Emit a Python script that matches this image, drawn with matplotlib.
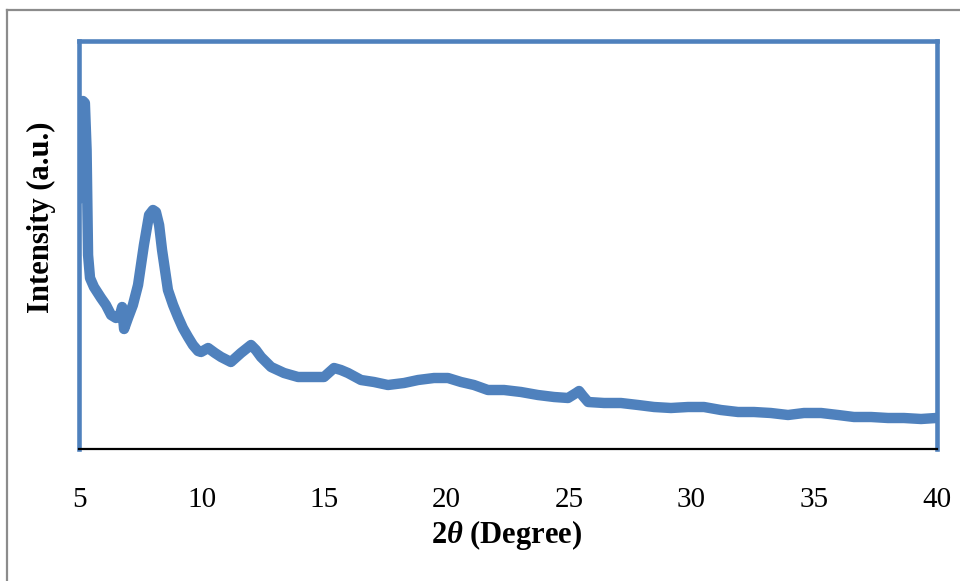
import matplotlib
matplotlib.use("Agg")
import matplotlib.pyplot as plt
from matplotlib.lines import Line2D

plt.rcParams['font.family'] = ['Liberation Serif', 'DejaVu Serif']
plt.rcParams['mathtext.fontset'] = 'custom'
plt.rcParams['mathtext.rm'] = 'Liberation Serif:bold'
plt.rcParams['mathtext.it'] = 'Liberation Serif:italic:bold'
plt.rcParams['mathtext.bf'] = 'Liberation Serif:bold'

# Data (2-theta in degrees, intensity in arbitrary units)
two_theta = [5.00, 5.08, 5.16, 5.24, 5.31, 5.37, 5.45, 5.61, 5.90, 6.10, 6.31, 6.51,
             6.67, 6.76, 6.84, 7.00, 7.20, 7.41, 7.65, 7.86, 8.02, 8.14, 8.27, 8.39,
             8.63, 8.84, 9.04, 9.24, 9.45, 9.65, 9.86, 9.98, 10.27, 10.55, 10.80, 11.20,
             11.61, 12.02, 12.22, 12.43, 12.84, 13.37, 13.94, 14.47, 15.00, 15.41, 15.69,
             15.98, 16.51, 17.04, 17.61, 18.27, 18.84, 19.49, 20.06, 20.59, 21.12, 21.69,
             22.35, 23.04, 23.73, 24.39, 24.96, 25.29, 25.41, 25.57, 25.78, 26.43, 27.12,
             27.82, 28.47, 29.16, 29.86, 30.51, 31.20, 31.90, 32.55, 33.24, 33.94, 34.59,
             35.29, 35.98, 36.63, 37.33, 38.02, 38.67, 39.37, 39.98]
intensity = [250, 305, 348, 346, 299, 194, 171, 162, 151, 144, 134, 131,
             134, 142, 120, 131, 144, 164, 204, 234, 239, 237, 224, 199,
             159, 144, 132, 121, 112, 104, 98, 97, 101, 96, 92, 87,
             96, 104, 99, 92, 82, 76, 72, 72, 72, 81, 79,
             76, 69, 67, 64, 66, 69, 71, 71, 67, 64, 59,
             59, 57, 54, 52, 51, 56, 58, 53, 47, 46, 46,
             44, 42, 41, 42, 42, 39, 37, 37, 36, 34, 36,
             36, 34, 32, 32, 31, 31, 30, 31]

x_ticks = [5, 10, 15, 20, 25, 30, 35, 40]
x_label = r'2$\theta$ (Degree)'
y_label = 'Intensity (a.u.)'

W, H = 960, 581
fig = plt.figure(figsize=(W / 100, H / 100), dpi=100)
left, right, top, bottom = 79, 936.5, 41, 449
ax = fig.add_axes([left / W, 1 - bottom / H, (right - left) / W, (bottom - top) / H])

blue = '#4F81BD'
ax.plot(two_theta, intensity, color=blue, lw=7.5, solid_joinstyle='round', solid_capstyle='round')

ax.set_xlim(5, 40)
ax.set_ylim(0, 408)
ax.set_xticks(x_ticks)
ax.set_xticklabels([str(t) for t in x_ticks])
ax.set_yticks([])
ax.tick_params(axis='x', length=0, pad=27.5, labelsize=21)

for s in ['left', 'right', 'top']:
    ax.spines[s].set_color(blue)
    ax.spines[s].set_linewidth(3.3)
ax.spines['bottom'].set_color('black')
ax.spines['bottom'].set_linewidth(1.6)

fig.text(507 / W, 1 - 535 / H, x_label, ha='center', va='center', fontsize=22, fontweight='bold')
fig.text(41 / W, 1 - 217 / H, y_label, ha='center', va='center', rotation=90,
         fontsize=22, fontweight='bold')

# outer chart border
fig.add_artist(Line2D([7 / W, 1.0], [1 - 10 / H, 1 - 10 / H], transform=fig.transFigure,
                      color='#8c8c8c', lw=1.6))
fig.add_artist(Line2D([7 / W, 7 / W], [0.0, 1 - 10 / H], transform=fig.transFigure,
                      color='#8c8c8c', lw=1.6))

fig.savefig('out.png', dpi=100)
